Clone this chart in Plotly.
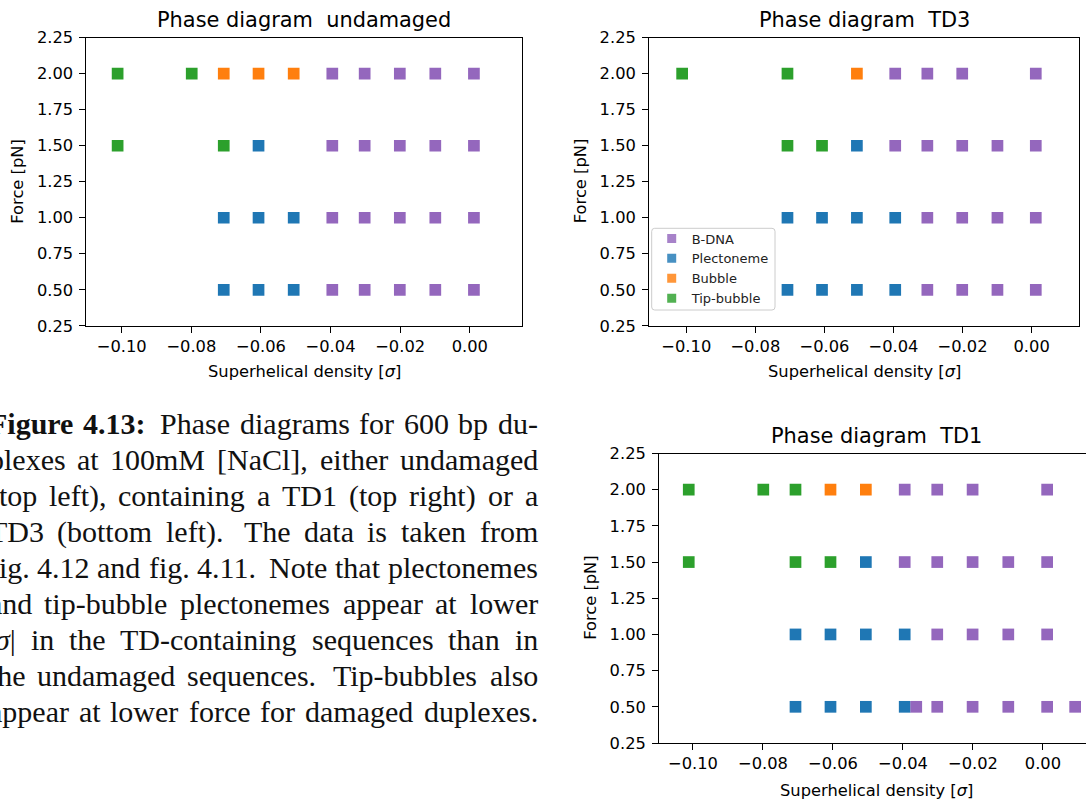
import plotly.graph_objects as go

FIG_W, FIG_H = 1086, 802

# ---------------------------------------------------------------------------
# Phase data: superhelical density sigma vs. pulling force [pN]
# ---------------------------------------------------------------------------
# undamaged duplex
und_bdna_sigma = [-0.0395, -0.0302, -0.0201, -0.0099, 0.0012,
                  -0.0395, -0.0302, -0.0201, -0.0099, 0.0012,
                  -0.0395, -0.0302, -0.0201, -0.0099, 0.0012,
                  -0.0395, -0.0302, -0.0201, -0.0099, 0.0012]
und_bdna_force = [2.0, 2.0, 2.0, 2.0, 2.0,
                  1.5, 1.5, 1.5, 1.5, 1.5,
                  1.0, 1.0, 1.0, 1.0, 1.0,
                  0.5, 0.5, 0.5, 0.5, 0.5]
und_plec_sigma = [-0.0607, -0.0707, -0.0607, -0.0506, -0.0707, -0.0607, -0.0506]
und_plec_force = [1.5, 1.0, 1.0, 1.0, 0.5, 0.5, 0.5]
und_bubble_sigma = [-0.0707, -0.0607, -0.0506]
und_bubble_force = [2.0, 2.0, 2.0]
und_tip_sigma = [-0.1012, -0.0799, -0.1012, -0.0707]
und_tip_force = [2.0, 2.0, 1.5, 1.5]

# duplex containing a TD3
td3_bdna_sigma = [-0.0395, -0.0302, -0.0201, 0.0012,
                  -0.0395, -0.0302, -0.0201, -0.0099, 0.0012,
                  -0.0302, -0.0201, -0.0099, 0.0012,
                  -0.0302, -0.0201, -0.0099, 0.0012]
td3_bdna_force = [2.0, 2.0, 2.0, 2.0,
                  1.5, 1.5, 1.5, 1.5, 1.5,
                  1.0, 1.0, 1.0, 1.0,
                  0.5, 0.5, 0.5, 0.5]
td3_plec_sigma = [-0.0506,
                  -0.0707, -0.0607, -0.0506, -0.0395,
                  -0.0707, -0.0607, -0.0506, -0.0395]
td3_plec_force = [1.5, 1.0, 1.0, 1.0, 1.0, 0.5, 0.5, 0.5, 0.5]
td3_bubble_sigma = [-0.0506]
td3_bubble_force = [2.0]
td3_tip_sigma = [-0.1012, -0.0707, -0.0707, -0.0607]
td3_tip_force = [2.0, 2.0, 1.5, 1.5]

# duplex containing a TD1
td1_bdna_sigma = [-0.0395, -0.0302, -0.0201, 0.0012,
                  -0.0395, -0.0302, -0.0201, -0.0099, 0.0012,
                  -0.0302, -0.0201, -0.0099, 0.0012,
                  -0.0362, -0.0302, -0.0201, -0.0099, 0.0012, 0.0092]
td1_bdna_force = [2.0, 2.0, 2.0, 2.0,
                  1.5, 1.5, 1.5, 1.5, 1.5,
                  1.0, 1.0, 1.0, 1.0,
                  0.5, 0.5, 0.5, 0.5, 0.5, 0.5]
td1_plec_sigma = [-0.0506,
                  -0.0707, -0.0607, -0.0506, -0.0395,
                  -0.0707, -0.0607, -0.0506, -0.0395]
td1_plec_force = [1.5, 1.0, 1.0, 1.0, 1.0, 0.5, 0.5, 0.5, 0.5]
td1_bubble_sigma = [-0.0607, -0.0506]
td1_bubble_force = [2.0, 2.0]
td1_tip_sigma = [-0.1012, -0.0799, -0.0707, -0.1012, -0.0707, -0.0607]
td1_tip_force = [2.0, 2.0, 2.0, 1.5, 1.5, 1.5]

phase_names = ["B-DNA", "Plectoneme", "Bubble", "Tip-bubble"]
phase_colors = ["#9467bd", "#1f77b4", "#ff7f0e", "#2ca02c"]

panel_titles = ["Phase diagram\u00a0 undamaged", "Phase diagram\u00a0 TD3", "Phase diagram\u00a0 TD1"]
x_title = "Superhelical density [<i>σ</i>]"
y_title = "Force [pN]"

x_tick_vals = [-0.10, -0.08, -0.06, -0.04, -0.02, 0.00]
x_tick_text = ["\u22120.10", "\u22120.08", "\u22120.06", "\u22120.04", "\u22120.02", "0.00"]
y_tick_vals = [0.25, 0.50, 0.75, 1.00, 1.25, 1.50, 1.75, 2.00, 2.25]
y_tick_text = ["0.25", "0.50", "0.75", "1.00", "1.25", "1.50", "1.75", "2.00", "2.25"]

caption_lines = [
    "Figure 4.13: Phase diagrams for 600 bp du-",
    "plexes at 100mM [NaCl], either undamaged",
    "(top left), containing a TD1 (top right) or a",
    "TD3 (bottom left). The data is taken from",
    "fig. 4.12 and fig. 4.11. Note that plectonemes",
    "and tip-bubble plectonemes appear at lower",
    "|σ| in the TD-containing sequences than in",
    "the undamaged sequences. Tip-bubbles also",
    "appear at lower force for damaged duplexes.",
]

# ---------------------------------------------------------------------------
# Layout helpers (pixel -> paper coordinates)
# ---------------------------------------------------------------------------
def px_x(px):
    return px / FIG_W


def px_y(py):
    return 1 - py / FIG_H


SANS = "DejaVu Sans"
SERIF = "Liberation Serif"
TICK_SIZE = 16.3
TITLE_SIZE = 20.9
SANS_MID = 0.346  # baseline -> middle of text box, in em

# panel boxes in px: (left, right, top, bottom)
panel_boxes = [(86.3, 522.3, 37.7, 325.8),
               (649.0, 1079.3, 37.7, 325.8),
               (659.0, 1086.0, 453.5, 743.0)]
panel_xranges = [[-0.1102, 0.0151], [-0.1108, 0.0138], [-0.1097, 0.0123]]
panel_right_spine = [True, True, False]
title_pos = [(304.3, 27.3), (864.2, 27.3), (876.0, 443.3)]   # centre x, baseline
xlabel_pos = [(304.3, 371.0), (864.2, 371.0), (876.0, 790.0)]
ylabel_pos = [(18.0, 181.7), (580.5, 181.7), (590.5, 598.3)]

panel_data = [
    [(und_bdna_sigma, und_bdna_force), (und_plec_sigma, und_plec_force),
     (und_bubble_sigma, und_bubble_force), (und_tip_sigma, und_tip_force)],
    [(td3_bdna_sigma, td3_bdna_force), (td3_plec_sigma, td3_plec_force),
     (td3_bubble_sigma, td3_bubble_force), (td3_tip_sigma, td3_tip_force)],
    [(td1_bdna_sigma, td1_bdna_force), (td1_plec_sigma, td1_plec_force),
     (td1_bubble_sigma, td1_bubble_force), (td1_tip_sigma, td1_tip_force)],
]

fig = go.Figure()
layout = dict(
    width=FIG_W, height=FIG_H,
    margin=dict(l=0, r=0, t=0, b=0, autoexpand=False),
    paper_bgcolor="white", plot_bgcolor="white",
    font=dict(family=SANS, size=TICK_SIZE, color="black"),
    showlegend=True,
)
annotations = []

# draw order: B-DNA last so it sits on top where markers touch
draw_order = [1, 2, 3, 0]

for i in range(3):
    sfx = "" if i == 0 else str(i + 1)
    left, right, top, bottom = panel_boxes[i]
    for k in draw_order:
        sig, force = panel_data[i][k]
        fig.add_trace(go.Scatter(
            x=sig, y=force, mode="markers",
            marker=dict(symbol="square", size=11.7, color=phase_colors[k],
                        line=dict(width=0)),
            xaxis="x" + sfx, yaxis="y" + sfx,
            showlegend=False, hoverinfo="x+y", name=phase_names[k],
        ))
    common = dict(showgrid=False, zeroline=False, showline=True,
                  linecolor="black", linewidth=1.3,
                  ticks="outside", ticklen=5.7, tickwidth=1.3, tickcolor="black",
                  automargin=False,
                  tickfont=dict(family=SANS, size=TICK_SIZE, color="black"))
    layout["xaxis" + sfx] = dict(
        domain=[px_x(left), px_x(right)], range=panel_xranges[i],
        anchor="y" + sfx, mirror=True,
        tickmode="array", tickvals=x_tick_vals, ticktext=x_tick_text, **common)
    layout["yaxis" + sfx] = dict(
        domain=[px_y(bottom), px_y(top)], range=[0.25, 2.25],
        anchor="x" + sfx, mirror=panel_right_spine[i], ticklabelstandoff=3,
        tickmode="array", tickvals=y_tick_vals, ticktext=y_tick_text, **common)

    tx, tb = title_pos[i]
    annotations.append(dict(
        text=panel_titles[i], xref="paper", yref="paper",
        x=px_x(tx), y=px_y(tb - SANS_MID * TITLE_SIZE),
        xanchor="center", yanchor="middle", showarrow=False,
        borderpad=0, borderwidth=0,
        font=dict(family=SANS, size=TITLE_SIZE, color="black")))
    lx, ly = xlabel_pos[i]
    annotations.append(dict(
        text=x_title, xref="paper", yref="paper", x=px_x(lx), y=px_y(ly),
        xanchor="center", yanchor="middle", showarrow=False,
        borderpad=0, borderwidth=0,
        font=dict(family=SANS, size=TICK_SIZE, color="black")))
    yx, yy = ylabel_pos[i]
    annotations.append(dict(
        text=y_title, xref="paper", yref="paper", x=px_x(yx), y=px_y(yy),
        xanchor="center", yanchor="middle", textangle=-90, showarrow=False,
        borderpad=0, borderwidth=0,
        font=dict(family=SANS, size=TICK_SIZE, color="black")))

# legend entries (shown in the TD3 panel)
for k in range(4):
    fig.add_trace(go.Scatter(
        x=[None], y=[None], mode="markers", name=phase_names[k],
        marker=dict(symbol="square", size=9, color=phase_colors[k],
                    opacity=0.82, line=dict(width=0)),
        xaxis="x2", yaxis="y2", showlegend=True, hoverinfo="skip"))

layout["legend"] = dict(
    x=px_x(651.7), y=px_y(223.5), xanchor="left", yanchor="top",
    bgcolor="rgba(0,0,0,0)", borderwidth=0,
    font=dict(family=SANS, size=13, color="#222222"),
    traceorder="normal", itemclick=False, itemdoubleclick=False)

# rounded legend frame
lx0, lx1, ly0, ly1, rad = 651.7, 775.0, 228.3, 310.0, 3.0


def frame_pt(px, py):
    return f"{px_x(px):.6f},{px_y(py):.6f}"


frame_path = (
    "M " + frame_pt(lx0 + rad, ly0)
    + " L " + frame_pt(lx1 - rad, ly0)
    + " Q " + frame_pt(lx1, ly0) + " " + frame_pt(lx1, ly0 + rad)
    + " L " + frame_pt(lx1, ly1 - rad)
    + " Q " + frame_pt(lx1, ly1) + " " + frame_pt(lx1 - rad, ly1)
    + " L " + frame_pt(lx0 + rad, ly1)
    + " Q " + frame_pt(lx0, ly1) + " " + frame_pt(lx0, ly1 - rad)
    + " L " + frame_pt(lx0, ly0 + rad)
    + " Q " + frame_pt(lx0, ly0) + " " + frame_pt(lx0 + rad, ly0)
    + " Z"
)
layout["shapes"] = [dict(
    type="path", xref="paper", yref="paper", path=frame_path,
    line=dict(color="#cccccc", width=1), fillcolor="rgba(255,255,255,0.8)",
    layer="above")]

# ---------------------------------------------------------------------------
# Justified caption set word by word (Times-compatible advance widths, 1/1000 em)
# ---------------------------------------------------------------------------
REG_W = dict(zip("abcdefghijklmnopqrstuvwxyz",
                 [444, 500, 444, 500, 444, 333, 500, 500, 278, 278, 500, 278, 778,
                  500, 500, 500, 500, 333, 389, 278, 500, 500, 722, 500, 500, 444]))
REG_W.update(dict(zip("ABCDEFGHIJKLMNOPQRSTUVWXYZ",
                      [722, 667, 667, 722, 611, 556, 722, 722, 333, 389, 722, 611, 889,
                       722, 722, 556, 722, 667, 556, 611, 722, 722, 944, 722, 722, 611])))
REG_W.update({d: 500 for d in "0123456789"})
REG_W.update({"(": 333, ")": 333, ",": 250, "-": 333, ".": 250, ":": 278,
              "[": 333, "]": 333, "|": 200, "σ": 520})
BOLD_W = {"F": 611, "i": 278, "g": 500, "u": 556, "r": 444, "e": 444,
          "4": 500, ".": 250, "1": 500, "3": 500, ":": 333}

CAP_SIZE = 30
CAP_LEFT, CAP_RIGHT = -11.5, 538.0
CAP_BASE0, CAP_STEP = 434.0, 36.0
SERIF_MID = (0.891 - 0.216) / 2


def word_width(word, bold):
    table = BOLD_W if bold else REG_W
    return sum(table.get(c, 500) for c in word) * CAP_SIZE / 1000.0


for li, line in enumerate(caption_lines):
    words = line.split(" ")
    bold_flags = [li == 0 and wi < 2 for wi in range(len(words))]
    widths = [word_width(w, b) for w, b in zip(words, bold_flags)]
    # wider glue after a sentence end
    weights = []
    for wi in range(len(words) - 1):
        nxt = words[wi + 1]
        end = words[wi].endswith((".", ":")) and nxt[0].isupper()
        weights.append(1.5 if end else 1.0)
    spare = (CAP_RIGHT - CAP_LEFT) - sum(widths)
    unit = spare / sum(weights)
    base = CAP_BASE0 + li * CAP_STEP
    xpos = CAP_LEFT
    for wi, (w, b) in enumerate(zip(words, bold_flags)):
        txt = w.replace("σ", "<i>σ</i>")
        if b:
            txt = "<b>" + txt + "</b>"
        annotations.append(dict(
            text=txt, xref="paper", yref="paper",
            x=px_x(xpos), y=px_y(base - SERIF_MID * CAP_SIZE),
            xanchor="left", yanchor="middle", showarrow=False,
            borderpad=0, borderwidth=0,
            font=dict(family=SERIF, size=CAP_SIZE, color="#111111")))
        xpos += widths[wi]
        if wi < len(weights):
            xpos += unit * weights[wi]

layout["annotations"] = annotations
fig.update_layout(**layout)
fig.write_html("out.html")
